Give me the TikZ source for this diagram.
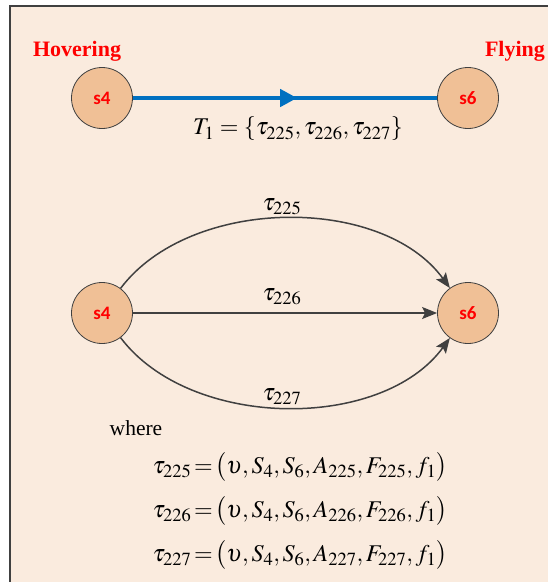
\documentclass[tikz,border=0pt]{standalone}
\usepackage{mathptmx}
\usepackage[no-math]{fontspec}
\setmainfont{Liberation Serif}
\newfontfamily\calibri{Carlito}
\usetikzlibrary{arrows.meta,decorations.markings}
\DeclareMathSizes{24}{24}{18.5}{14}
\definecolor{bgpeach}{HTML}{FAEBDE}
\definecolor{statefill}{HTML}{F0C096}
\definecolor{edgegray}{HTML}{404040}
\definecolor{flowblue}{HTML}{0070C0}

\begin{document}
\begin{tikzpicture}[x=1pt, y=-1pt,
    state/.style={circle, draw=edgegray, fill=statefill, line width=0.8pt, minimum size=61pt, inner sep=0pt,
      text=red, font=\calibri\bfseries\fontsize{19}{19}\selectfont},
    mode/.style={text=red, font=\bfseries\fontsize{22}{22}\selectfont},
    trans/.style={draw=edgegray, line width=1.5pt, -{Stealth[length=15pt,width=12pt,inset=3pt]}},
    lbl/.style={inner sep=0pt, font=\fontsize{24}{28}\selectfont},
    midarrow/.style={decoration={markings, mark=at position 0.54 with {\arrow{Triangle[length=17pt,width=17pt]}}},
      postaction={decorate}}]
  \useasboundingbox (0,0) rectangle (548,582);
  \draw[fill=bgpeach, draw=edgegray, line width=1.5pt] (10,6) rectangle (600,640);

  \node[state] (s4a) at (102,98) {s4};
  \node[state] (s6a) at (468,98) {s6};
  \node[mode] (hover) at (77,51) {Hovering};
  \node[mode] (fly) at (515,51) {Flying};
  \draw[flowblue, line width=4.5pt, midarrow] (s4a) -- (s6a);
  \node[lbl] (tset) at (298,129) {$T_1=\{\tau_{225},\tau_{226},\tau_{227}\}$};

  \node[state] (s4b) at (102,313) {s4};
  \node[state] (s6b) at (468,313) {s6};
  \draw[trans] (s4b) to[out=53,in=126,looseness=0.9] (s6b);
  \draw[trans] (s4b) -- (s6b);
  \draw[trans] (s4b) to[out=-53,in=-126,looseness=0.9] (s6b);
  \node[lbl] (t225) at (282,207) {$\tau_{225}$};
  \node[lbl] (t226) at (282,297) {$\tau_{226}$};
  \node[lbl] (t227) at (282,397) {$\tau_{227}$};

  \node[font=\fontsize{21.5}{22}\selectfont, inner sep=0pt] (where) at (136,428) {where};
  \node[lbl] (eq225) at (300,467) {$\tau_{225}\!=\!\bigl(\upsilon,S_4,S_6,A_{225},F_{225},f_1\bigr)$};
  \node[lbl] (eq226) at (300,511) {$\tau_{226}\!=\!\bigl(\upsilon,S_4,S_6,A_{226},F_{226},f_1\bigr)$};
  \node[lbl] (eq227) at (300,555) {$\tau_{227}\!=\!\bigl(\upsilon,S_4,S_6,A_{227},F_{227},f_1\bigr)$};
\end{tikzpicture}
\end{document}
